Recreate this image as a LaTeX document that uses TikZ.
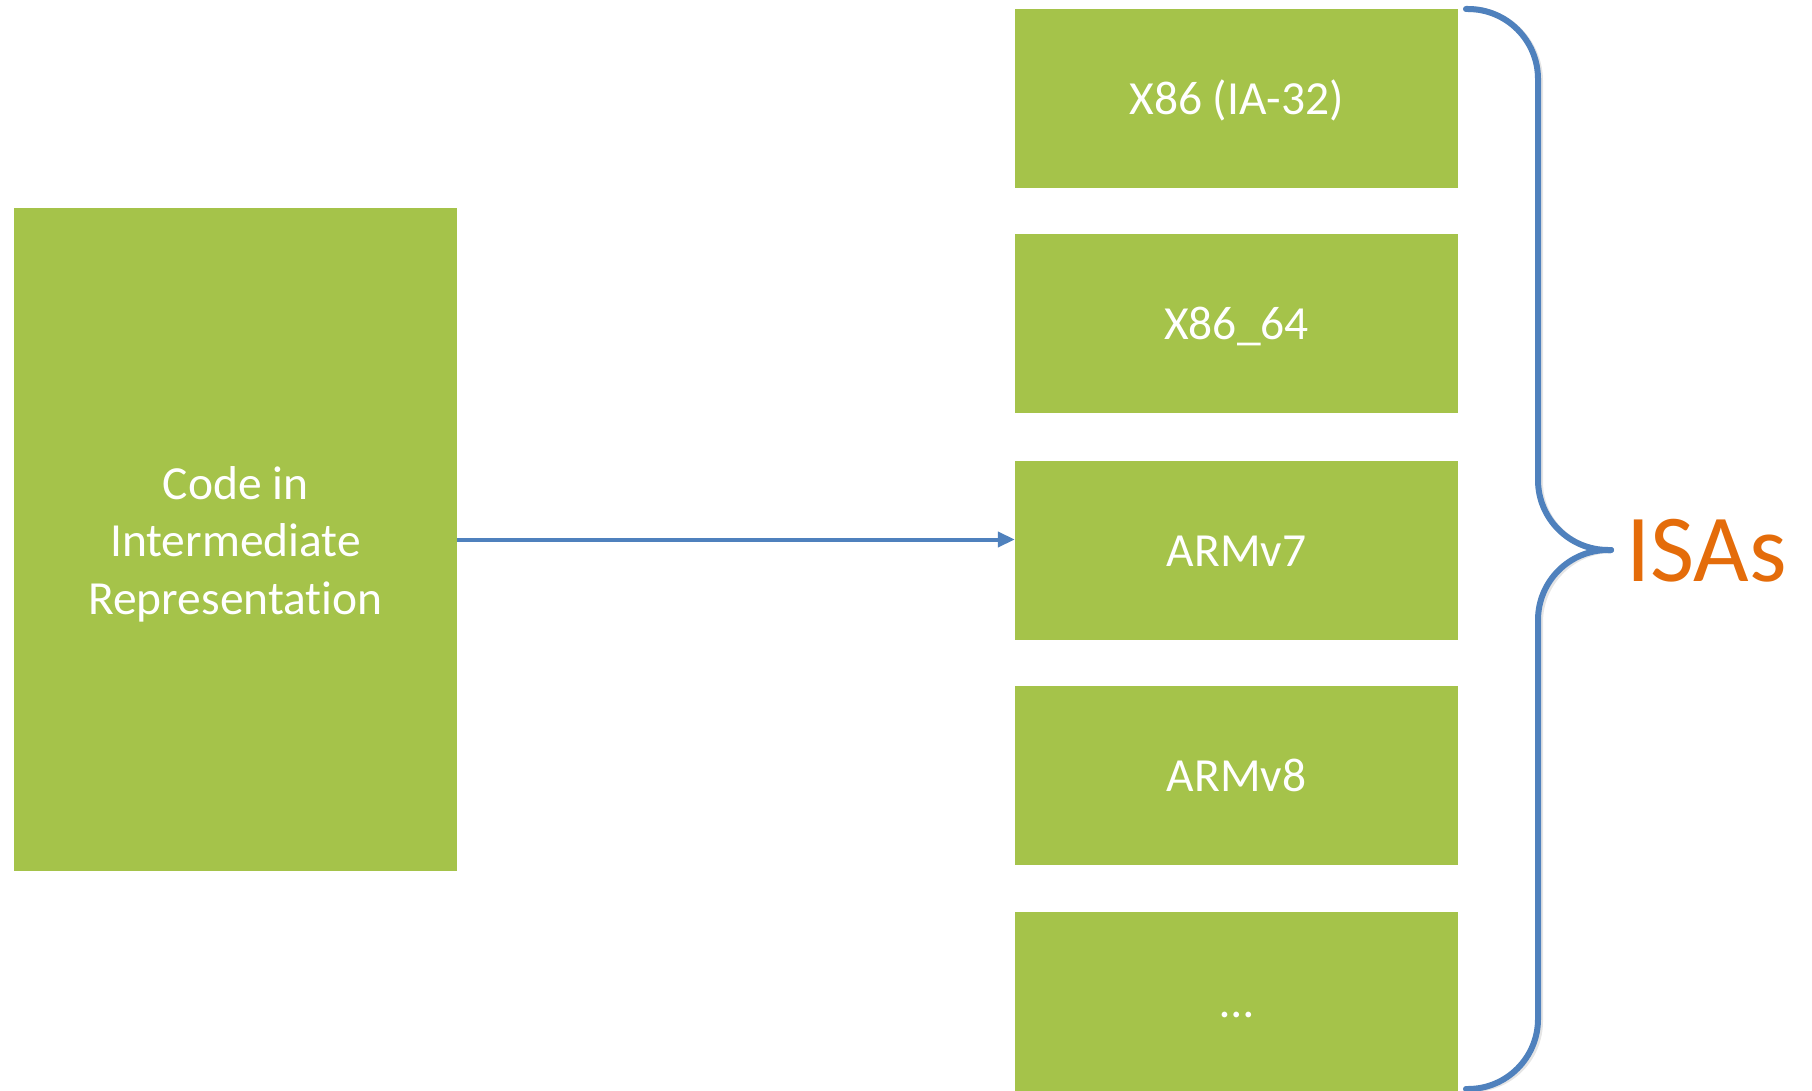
\documentclass[tikz,border=0pt]{standalone}
\usepackage{fontspec}
\setmainfont[Ligatures=NoCommon]{Carlito}
\usetikzlibrary{arrows.meta}
\definecolor{isagreen}{RGB}{165,195,74}
\definecolor{braceblue}{RGB}{79,129,189}
\definecolor{isaorange}{RGB}{228,108,10}

\begin{document}
\begin{tikzpicture}[x=1pt,y=-1pt,
  box/.style={fill=isagreen,inner sep=0pt,minimum width=443pt,text=white,font=\fontsize{47.5}{57.5}\selectfont},
  isabox/.style={box,minimum height=179pt,text height=32pt,text depth=0pt},
  link/.style={draw=braceblue,line width=4pt,-{Triangle[length=17pt,width=15pt]}},
  brace/.style={draw=braceblue,line width=6pt,rounded corners=70pt,line cap=round}]
\useasboundingbox (0,0) rectangle (1812,1091);
% source box
\node [box,minimum height=663pt,align=center] (ir) at (235.5,539.5) {\rule{0pt}{42pt}Code in\\Intermediate\\Representation};
% target ISAs
\node [isabox] (x86) at (1236.5,98.5) {X86 (IA-32)};
\node [isabox] (x64) at (1236.5,323.5) {X86\_64};
\node [isabox] (armv7) at (1236.5,550) {ARMv7};
\node [isabox] (armv8) at (1236.5,775) {ARMv8};
\node [isabox] (more) at (1236.5,1001.5) {…};
\draw [link] (ir.east) -- (ir.east -| armv7.west);
% brace
\coordinate (bracetop) at (1466,9);
\coordinate (bracetip) at (1611,550);
\coordinate (bracebot) at (1466,1089);
\begin{scope}[shift={(2,2)}]
\draw [brace,draw=black!10] (bracetop) -- (1538,9) -- (1538,550) -- (bracetip);
\draw [brace,draw=black!10] (bracebot) -- (1538,1089) -- (1538,550) -- (bracetip);
\end{scope}
\draw [brace] (bracetop) -- (1538,9) -- (1538,550) -- (bracetip);
\draw [brace] (bracebot) -- (1538,1089) -- (1538,550) -- (bracetip);
\node [font=\fontsize{96}{96}\selectfont,text=isaorange,anchor=base west,inner sep=0pt] (isas) at (1626,581) {ISAs};
\end{tikzpicture}
\end{document}
